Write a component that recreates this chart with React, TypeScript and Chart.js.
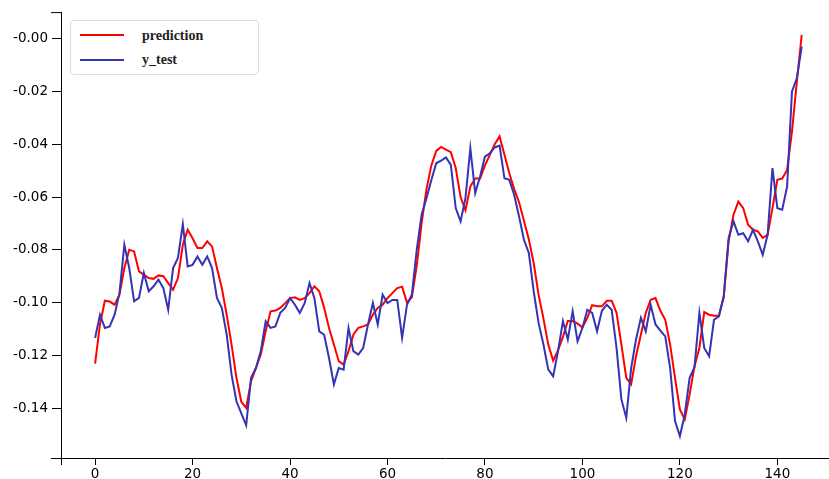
import React, { useEffect, useRef } from "react";
import { Chart, registerables } from "chart.js";

Chart.register(...registerables);

const seriesNames = ["prediction", "y_test"];

const prediction = [
  -0.1231, -0.1083, -0.0993, -0.0996, -0.1008, -0.097, -0.0869, -0.08, -0.0806, -0.0882,
  -0.0894, -0.0907, -0.091, -0.0897, -0.09, -0.0926, -0.0951, -0.0907, -0.0781, -0.0724,
  -0.0756, -0.0793, -0.0793, -0.0768, -0.0787, -0.0869, -0.0945, -0.1046, -0.1159, -0.1285,
  -0.1376, -0.1399, -0.1298, -0.1248, -0.1197, -0.1109, -0.1033, -0.103, -0.102, -0.1002,
  -0.0983, -0.098, -0.099, -0.0983, -0.0964, -0.0938, -0.0957, -0.102, -0.1096, -0.1159,
  -0.1222, -0.1235, -0.1184, -0.1122, -0.1096, -0.109, -0.1083, -0.1046, -0.102, -0.1008,
  -0.0983, -0.0964, -0.0945, -0.094, -0.1, -0.098, -0.086, -0.07, -0.057, -0.048,
  -0.0425, -0.041, -0.042, -0.043, -0.049, -0.06, -0.065, -0.056, -0.053, -0.053,
  -0.048, -0.044, -0.04, -0.037, -0.044, -0.051, -0.057, -0.062, -0.069, -0.076,
  -0.085, -0.097, -0.106, -0.116, -0.122, -0.118, -0.113, -0.107, -0.107, -0.108,
  -0.1094, -0.1058, -0.101, -0.1014, -0.1014, -0.0993, -0.0993, -0.1039, -0.1159, -0.1285,
  -0.131, -0.1203, -0.1121, -0.1039, -0.0989, -0.0983, -0.1031, -0.1065, -0.1159, -0.1285,
  -0.1405, -0.1443, -0.1348, -0.1241, -0.1172, -0.1036, -0.1046, -0.105, -0.105, -0.098,
  -0.0768, -0.0667, -0.0617, -0.0642, -0.0705, -0.0724, -0.073, -0.0755, -0.0743, -0.0642,
  -0.0535, -0.053, -0.0497, -0.0352, -0.0163, 0.0015,
];

const yTest = [
  -0.1134, -0.1046, -0.1096, -0.109, -0.1046, -0.0964, -0.0781, -0.0869, -0.0995, -0.0982,
  -0.0888, -0.0957, -0.0938, -0.0913, -0.0945, -0.1027, -0.0869, -0.0831, -0.0703, -0.0863,
  -0.0857, -0.0825, -0.0857, -0.0825, -0.0869, -0.0982, -0.102, -0.1121, -0.1273, -0.1374,
  -0.142, -0.1465, -0.1285, -0.1248, -0.1184, -0.1071, -0.1096, -0.109, -0.1039, -0.102,
  -0.0983, -0.1008, -0.1039, -0.1002, -0.0926, -0.0983, -0.1109, -0.1122, -0.121, -0.131,
  -0.1248, -0.1254, -0.1096, -0.1184, -0.1197, -0.1172, -0.1083, -0.1002, -0.1083, -0.097,
  -0.1002, -0.099, -0.099, -0.1134, -0.1008, -0.097, -0.08, -0.0667, -0.0604, -0.0535,
  -0.0472, -0.0462, -0.045, -0.0478, -0.0642, -0.0692, -0.0604, -0.0415, -0.0585, -0.0522,
  -0.0447, -0.0434, -0.0412, -0.0405, -0.0529, -0.0535, -0.0592, -0.0674, -0.0762, -0.0812,
  -0.0957, -0.1077, -0.1159, -0.1254, -0.1279, -0.1184, -0.107, -0.114, -0.1033, -0.1147,
  -0.1096, -0.1027, -0.1039, -0.1109, -0.1031, -0.1008, -0.1027, -0.1172, -0.1367, -0.1437,
  -0.1248, -0.114, -0.1058, -0.1109, -0.1008, -0.1083, -0.1106, -0.1128, -0.1248, -0.1449,
  -0.1506, -0.1424, -0.1285, -0.1245, -0.1039, -0.1172, -0.1203, -0.1065, -0.1052, -0.0975,
  -0.0755, -0.0692, -0.0743, -0.0737, -0.0768, -0.0724, -0.0768, -0.0819, -0.0743, -0.049,
  -0.0642, -0.0648, -0.056, -0.02, -0.015, -0.003,
];

const xTickValues = [0, 20, 40, 60, 80, 100, 120, 140];
const xTickLabels = ["0", "20", "40", "60", "80", "100", "120", "140"];
const yTickValues = [0, -0.02, -0.04, -0.06, -0.08, -0.1, -0.12, -0.14];
const yTickLabels = ["-0.00", "-0.02", "-0.04", "-0.06", "-0.08", "-0.10", "-0.12", "-0.14"];

const RED = "#ff0000";
const BLUE = "#3434b4";

const outerTicks = {
  id: "outerTicks",
  afterDraw(chart: any) {
    const { ctx, chartArea } = chart;
    const { left, top, bottom } = chartArea;
    ctx.save();
    ctx.strokeStyle = "#000";
    ctx.lineWidth = 1;
    ctx.beginPath();
    ctx.moveTo(left - 10, top + 0.5);
    ctx.lineTo(left, top + 0.5);
    ctx.moveTo(left - 10, bottom + 0.5);
    ctx.lineTo(left, bottom + 0.5);
    ctx.moveTo(left + 0.5, bottom);
    ctx.lineTo(left + 0.5, bottom + 7);
    ctx.stroke();
    ctx.restore();
  },
};

export default function App() {
  const ref = useRef<HTMLCanvasElement | null>(null);

  useEffect(() => {
    if (!ref.current) return;
    const toPoints = (arr: number[]) => arr.map((v, i) => ({ x: i, y: v }));
    const chart = new Chart(ref.current, {
      type: "line",
      data: {
        datasets: [
          {
            label: seriesNames[1],
            data: toPoints(yTest),
            borderColor: BLUE,
            backgroundColor: BLUE,
            borderWidth: 2,
            pointRadius: 0,
            tension: 0,
            fill: false,
          },
          {
            label: seriesNames[0],
            data: toPoints(prediction),
            borderColor: RED,
            backgroundColor: RED,
            borderWidth: 2,
            pointRadius: 0,
            tension: 0,
            fill: false,
          },
        ],
      },
      options: {
        animation: false,
        responsive: false,
        maintainAspectRatio: false,
        layout: { padding: { top: 12, left: 0, right: 0, bottom: 0 } },
        plugins: {
          legend: { display: false },
          tooltip: { enabled: false },
        },
        scales: {
          x: {
            type: "linear",
            min: -7,
            max: 150.6,
            afterBuildTicks: (scale: any) => {
              scale.ticks = xTickValues.map((v) => ({ value: v }));
            },
            afterFit: (scale: any) => {
              scale.height = 21;
            },
            ticks: {
              color: "#000",
              padding: 1,
              maxRotation: 0,
              autoSkip: false,
              font: { family: "DejaVu Sans", size: 13.5 },
              callback: (value: any) => {
                const idx = xTickValues.indexOf(Number(value));
                return idx >= 0 ? xTickLabels[idx] : "";
              },
            },
            grid: {
              display: true,
              drawOnChartArea: false,
              drawTicks: true,
              tickLength: 7,
              color: "#000",
              lineWidth: 1,
            },
            border: { display: true, color: "#000", width: 1 },
          },
          y: {
            type: "linear",
            min: -0.1589,
            max: 0.0101,
            afterBuildTicks: (scale: any) => {
              scale.ticks = yTickValues.map((v) => ({ value: v }));
            },
            afterFit: (scale: any) => {
              scale.width = 61;
            },
            ticks: {
              color: "#000",
              padding: 4,
              autoSkip: false,
              font: { family: "DejaVu Sans", size: 13.5 },
              callback: (value: any) => {
                const idx = yTickValues.findIndex((t) => Math.abs(t - Number(value)) < 1e-9);
                return idx >= 0 ? yTickLabels[idx] : "";
              },
            },
            grid: {
              display: true,
              drawOnChartArea: false,
              drawTicks: true,
              tickLength: 9,
              color: "#000",
              lineWidth: 1,
            },
            border: { display: true, color: "#000", width: 1 },
          },
        },
      },
      plugins: [outerTicks],
    } as any);
    return () => chart.destroy();
  }, []);

  const legendText: React.CSSProperties = {
    position: "absolute",
    left: 71,
    fontFamily: "'Liberation Serif', serif",
    fontWeight: "bold",
    fontSize: 14,
    color: "#222",
    lineHeight: "16px",
    whiteSpace: "nowrap",
  };

  return (
    <div style={{ position: "absolute", left: 0, top: 0, width: 829, height: 479, background: "#fff", overflow: "hidden" }}>
      <canvas ref={ref} width={829} height={479} style={{ width: 829, height: 479, display: "block" }} />
      <div
        style={{
          position: "absolute",
          left: 70,
          top: 20,
          width: 189,
          height: 55,
          border: "1px solid #dcdcdc",
          borderRadius: 4,
          background: "#fff",
          boxSizing: "border-box",
        }}
      >
        <div style={{ position: "absolute", left: 9, top: 13, width: 44, height: 2, background: RED }} />
        <div style={{ ...legendText, top: 7 }}>{seriesNames[0]}</div>
        <div style={{ position: "absolute", left: 9, top: 38, width: 44, height: 2, background: BLUE }} />
        <div style={{ ...legendText, top: 31 }}>{seriesNames[1]}</div>
      </div>
    </div>
  );
}
